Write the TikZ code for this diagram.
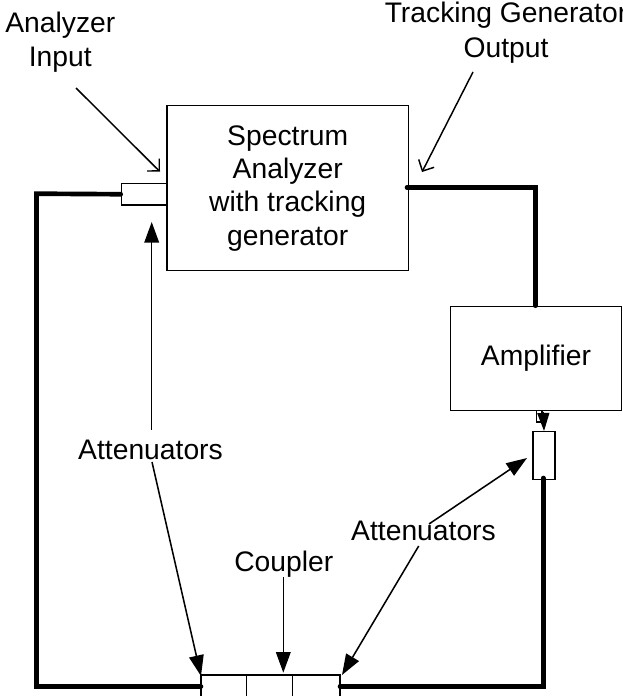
\documentclass[tikz,border=0pt]{standalone}
\usepackage{fontspec}
\setmainfont{Liberation Sans}
\usetikzlibrary{arrows.meta,positioning,calc}
\tikzset{
    block/.style={draw, line width=1.1pt, inner sep=0pt},
    label/.style={font=\fontsize{21.2}{25}\selectfont, align=center, inner sep=0pt},
    thickline/.style={line width=3.5pt, line cap=round, line join=miter},
    bigarrow/.style={line width=1.15pt, -{Triangle[length=15.5pt,width=11pt]}},
    smallarrow/.style={line width=1pt, -{Triangle[length=13.5pt,width=9pt]}},
    openarrow/.style={line width=1.1pt, -{Straight Barb[length=6.5pt,width=13pt]}}
}
\begin{document}
\begin{tikzpicture}[x=0.75pt,y=-0.75pt]
            \useasboundingbox (0,0) rectangle (622,696);

            % Main instrument and amplifier
            \node[block, label, minimum width=181pt, minimum height=123.75pt, anchor=north west] (analyzer) at (166.3,105) {Spectrum\\Analyzer\\with tracking\\generator};
            \node[block, label, minimum width=128.6pt, minimum height=78.2pt, anchor=north west] (amplifier) at (449.5,305.7) {Amplifier};

            % Input connector and attenuator at the amplifier
            \node[block, minimum width=34.1pt, minimum height=16.2pt, anchor=north west] (inputport) at (120.7,182.7) {};
            \node[block, minimum width=16.5pt, minimum height=35.8pt, anchor=north west] (rightatten) at (532.3,431) {};
            \node[block, minimum width=4pt, minimum height=8.5pt, anchor=north west] (ampstub) at (535.7,410) {};

            % Coupler, cut by the lower edge
            \coordinate (couplerNW) at (201,675);
            \coordinate (couplerNE) at (340,675);
            \draw[line width=1.1pt] (201,697) -- (couplerNW) -- (couplerNE) -- (340,697);
            \draw[line width=1.1pt] (246.7,675) -- (246.7,697);
            \draw[line width=1.1pt] (292.7,675) -- (292.7,697);

            % Thick cables
            \coordinate (outport) at (407,187.5);
            \coordinate (ampin) at (535.5,305.7);
            \coordinate (atten2out) at (543.3,478);
            \draw[thickline] (outport) -- (ampin |- outport) -- (ampin);
            \draw[thickline] (inputport.west) -- (36.5,193.7) -- (36.5,686.5) -- (couplerNW |- 0,686.5);
            \draw[thickline] (atten2out) -- (543.3,686.5) -- (couplerNE |- 0,686.5);

            % Text labels
            \node[label] (inlabel) at (60.3,42.3) {Analyzer\\[1pt]Input};
            \node[label] (outlabel) at (506,32.8) {Tracking Generator\\[1pt]Output};
            \node[label] (attenleft) at (150.5,450) {Attenuators};
            \node[label] (attenright) at (423.5,530.5) {Attenuators};
            \node[label] (couplerlabel) at (283.8,564.4) {Coupler};

            % Pointers
            \coordinate (intip) at (160,171.7);
            \coordinate (outtip) at (422,172);
            \draw[openarrow] (76,88) -- (intip);
            \draw[openarrow] (473,72) -- (outtip);
            \draw[bigarrow] (151.7,430) -- (151.7,222);
            \draw[bigarrow] (152,462) -- (201,676);
            \draw[bigarrow] (429,524) -- (527,458);
            \draw[bigarrow] (418.7,546) -- (342,675);
            \draw[bigarrow] (283.3,577) -- (283.3,672.7);
            \draw[smallarrow] (543.3,412) -- (rightatten.north);
\end{tikzpicture}
\end{document}
